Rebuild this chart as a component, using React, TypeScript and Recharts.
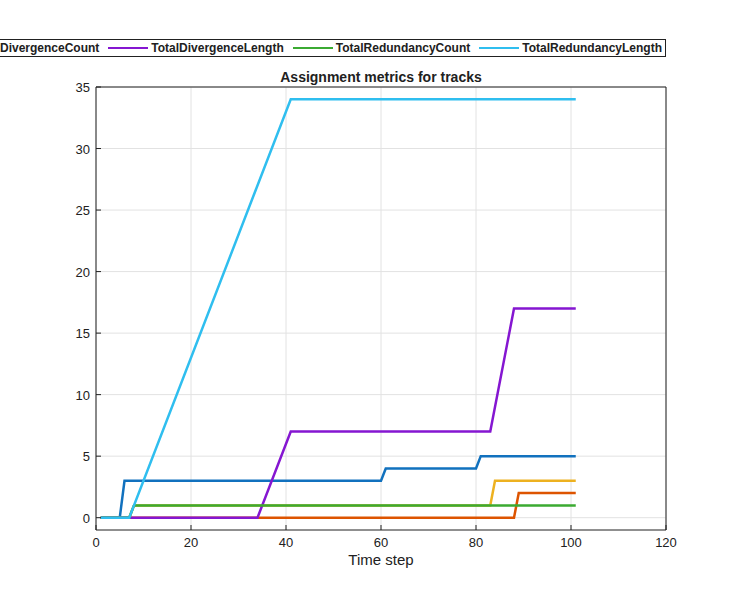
import React from 'react';
import { LineChart, Line, XAxis, YAxis, CartesianGrid } from 'recharts';

// breakpoints of each cumulative metric (time step -> value)
const swapSteps = [1, 5, 6, 60, 61, 80, 81, 101];
const swapValues = [0, 0, 3, 3, 4, 4, 5, 5];
const breakSteps = [1, 88, 89, 101];
const breakValues = [0, 0, 2, 2];
const divCountSteps = [1, 7, 8, 83, 84, 101];
const divCountValues = [0, 0, 1, 1, 3, 3];
const divLengthSteps = [1, 34, 41, 83, 88, 101];
const divLengthValues = [0, 0, 7, 7, 17, 17];
const redCountSteps = [1, 7, 8, 101];
const redCountValues = [0, 0, 1, 1];
const redLengthSteps = [1, 7, 41, 101];
const redLengthValues = [0, 0, 34, 34];

const xTicks = [0, 20, 40, 60, 80, 100, 120];
const yTicks = [0, 5, 10, 15, 20, 25, 30, 35];

const FONT = '"Liberation Sans", Arial, Helvetica, sans-serif';
const AXIS = '#212121';

const toPoints = (steps: number[], values: number[]) =>
  steps.map((t, i) => ({ t, v: values[i] }));

const series = [
  { name: 'TotalSwapCount', color: '#1171BE', data: toPoints(swapSteps, swapValues) },
  { name: 'TotalBreakCount', color: '#DD5400', data: toPoints(breakSteps, breakValues) },
  { name: 'TotalDivergenceCount', color: '#EDB120', data: toPoints(divCountSteps, divCountValues) },
  { name: 'TotalDivergenceLength', color: '#8516D1', data: toPoints(divLengthSteps, divLengthValues) },
  { name: 'TotalRedundancyCount', color: '#3BAA32', data: toPoints(redCountSteps, redCountValues) },
  { name: 'TotalRedundancyLength', color: '#2FBEEF', data: toPoints(redLengthSteps, redLengthValues) },
];

// axes sit on the plot edges; ticks point inwards like the original
const BottomTick = (props: any) => {
  const { x, y, payload } = props;
  return (
    <g>
      <line x1={x} x2={x} y1={y} y2={y - 5} stroke={AXIS} />
      <text x={x} y={y + 17} textAnchor="middle" fontSize={13} fill={AXIS} fontFamily={FONT}>
        {payload.value}
      </text>
    </g>
  );
};

const TopTick = (props: any) => {
  const { x, y } = props;
  return <line x1={x} x2={x} y1={y} y2={y + 5} stroke={AXIS} />;
};

const LeftTick = (props: any) => {
  const { x, y, payload } = props;
  return (
    <g>
      <line x1={x} x2={x + 5} y1={y} y2={y} stroke={AXIS} />
      <text x={x - 6} y={y + 5} textAnchor="end" fontSize={13} fill={AXIS} fontFamily={FONT}>
        {payload.value}
      </text>
    </g>
  );
};

const RightTick = (props: any) => {
  const { x, y } = props;
  return <line x1={x} x2={x - 5} y1={y} y2={y} stroke={AXIS} />;
};

export default function App() {
  return (
    <div style={{ position: 'absolute', left: 0, top: 0, width: 737, height: 590, background: '#fff', overflow: 'hidden', fontFamily: FONT }}>
      <LineChart width={737} height={590} margin={{ top: 77, right: 61, bottom: 30, left: 56 }}>
        <CartesianGrid stroke="#e2e2e2" horizontalValues={yTicks} verticalValues={xTicks} />
        <XAxis
          dataKey="t"
          type="number"
          domain={[0, 120]}
          ticks={xTicks}
          height={30}
          tickSize={0}
          tickMargin={0}
          tickLine={false}
          tick={<BottomTick />}
          axisLine={{ stroke: AXIS }}
          allowDataOverflow
        />
        <XAxis
          xAxisId="top"
          orientation="top"
          type="number"
          domain={[0, 120]}
          ticks={xTicks}
          height={10}
          tickSize={0}
          tickMargin={0}
          tickLine={false}
          tick={<TopTick />}
          axisLine={{ stroke: AXIS }}
        />
        <YAxis
          type="number"
          domain={[-1, 35]}
          ticks={yTicks}
          width={40}
          tickSize={0}
          tickMargin={0}
          tickLine={false}
          tick={<LeftTick />}
          axisLine={{ stroke: AXIS }}
          allowDataOverflow
        />
        <YAxis
          yAxisId="right"
          orientation="right"
          type="number"
          domain={[-1, 35]}
          ticks={yTicks}
          width={10}
          tickSize={0}
          tickMargin={0}
          tickLine={false}
          tick={<RightTick />}
          axisLine={{ stroke: AXIS }}
        />
        {series.map((s) => (
          <Line
            key={s.name}
            data={s.data}
            dataKey="v"
            name={s.name}
            type="linear"
            stroke={s.color}
            strokeWidth={2.5}
            dot={false}
            isAnimationActive={false}
          />
        ))}
      </LineChart>

      <div style={{ position: 'absolute', left: 0, width: 762, top: 69, textAlign: 'center', fontSize: 14, fontWeight: 'bold', color: AXIS }}>
        Assignment metrics for tracks
      </div>
      <div style={{ position: 'absolute', left: 0, width: 762, top: 551, textAlign: 'center', fontSize: 15, color: AXIS }}>
        Time step
      </div>

      <div
        style={{
          position: 'absolute',
          right: 71,
          top: 39,
          height: 16,
          display: 'flex',
          alignItems: 'center',
          whiteSpace: 'nowrap',
          border: `1px solid ${AXIS}`,
          background: '#fff',
          paddingRight: 3,
          fontSize: 12,
          fontWeight: 'bold',
          color: AXIS,
        }}
      >
        {series.map((s) => (
          <span key={s.name} style={{ display: 'inline-flex', alignItems: 'center', marginLeft: 9 }}>
            <span style={{ display: 'inline-block', width: 40, height: 2.5, background: s.color }} />
            <span style={{ marginLeft: 3 }}>{s.name}</span>
          </span>
        ))}
      </div>
    </div>
  );
}
